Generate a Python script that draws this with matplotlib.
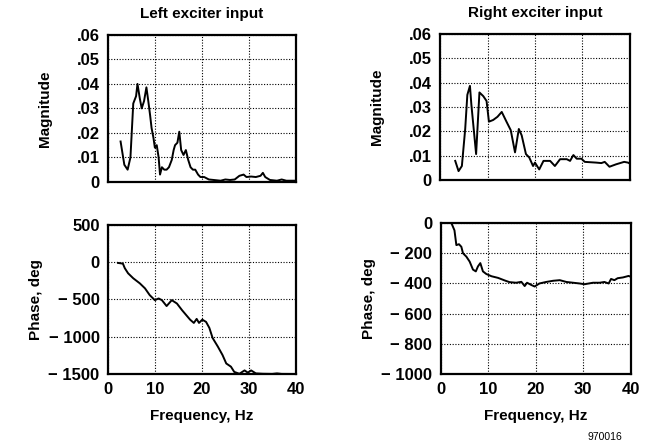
import numpy as np
import matplotlib
matplotlib.use("Agg")
import matplotlib.pyplot as plt

plt.rcParams['font.family'] = ['Liberation Sans', 'DejaVu Sans']
plt.rcParams['font.weight'] = 'bold'

# left exciter, magnitude
left_mag_f = [2.7, 3.5, 4.2, 4.8, 5.4, 6.0, 6.3, 6.8, 7.2, 7.7, 8.2, 8.6, 9.0, 9.3, 9.7,
              10.0, 10.4, 10.8, 11.1, 11.5, 12.0, 12.5, 13.0, 13.6, 14.0, 14.3, 14.8,
              15.2, 15.6, 16.1, 16.6, 17.1, 17.6, 18.1, 18.6, 19.2, 19.7, 20.5, 21.5,
              22.5, 24, 25, 26, 27, 28, 28.9, 29.5, 30.5, 31.5, 32.5, 33, 33.5, 34.5,
              36, 37, 38, 40]
left_mag = [.0165, .007, .005, .010, .032, .035, .040, .034, .030, .033, .0386, .033, .027,
            .022, .018, .014, .015, .010, .003, .006, .005, .005, .006, .009, .013, .015,
            .016, .0205, .013, .011, .013, .009, .006, .005, .005, .003, .002, .002, .001,
            .0008, .0005, .001, .0008, .001, .0025, .003, .002, .0022, .002, .0025, .0037,
            .002, .0008, .0005, .001, .0005, .0005]

# right exciter, magnitude
right_mag_f = [3.2, 3.9, 4.6, 5.3, 5.75, 6.3, 6.6, 7.6, 8.3, 9.1, 9.8, 10.3, 11.2, 12.1,
               13.0, 14.0, 14.9, 15.8, 16.6, 17.2, 18.1, 18.8, 19.6, 20.0, 20.9, 21.8,
               23.2, 24.2, 25.3, 26.7, 27.4, 28.1, 28.8, 29.8, 30.5, 32.9, 34.0, 34.7,
               35.7, 37.1, 38.8, 39.6, 40]
right_mag = [.0079, .0037, .0058, .021, .035, .0387, .031, .0107, .036, .0345, .0325, .024,
             .0247, .026, .028, .024, .0205, .0114, .021, .0184, .0107, .0093, .0058,
             .0072, .0044, .0079, .0079, .0058, .0086, .0086, .0079, .0103, .0088, .0088,
             .0075, .0072, .007, .0075, .0055, .0065, .0075, .0072, .0068]

# left exciter, phase
left_ph_f = [2.15, 3.2, 3.6, 4.3, 5.4, 6.8, 7.9, 8.9, 10.0, 10.8, 11.5, 12.5, 13.6, 14.7,
             15.8, 17.5, 18.3, 18.9, 19.4, 20.1, 20.9, 21.6, 22.3, 23.4, 24.4, 25.2,
             26.2, 26.9, 28.0, 29.1, 29.8, 30.5, 31.5, 33, 35, 36, 37, 40]
left_ph = [-10, -20, -81, -149, -216, -284, -351, -441, -509, -486, -509, -588, -509, -554,
           -644, -770, -814, -760, -814, -770, -800, -880, -1016, -1130, -1243, -1357,
           -1400, -1470, -1495, -1450, -1480, -1450, -1490, -1495, -1497, -1490, -1497, -1498]

# right exciter, phase
right_ph_f = [2.25, 2.9, 3.3, 3.85, 4.35, 4.7, 5.4, 6.1, 6.8, 7.4, 7.85, 8.35, 8.9, 9.6,
              10.7, 12.1, 13.5, 14.5, 15.9, 17.0, 17.7, 18.2, 19.1, 19.8, 20.8, 22.2,
              23.7, 25.1, 26.5, 27.9, 29.3, 30.3, 32.1, 33.5, 34.5, 35.4, 35.9, 36.6,
              37.3, 38.4, 39.6, 40]
right_ph = [0, -48, -146, -140, -157, -200, -222, -255, -308, -320, -287, -265, -320, -337,
            -352, -363, -380, -391, -395, -389, -417, -395, -410, -420, -400, -390, -382,
            -378, -390, -395, -400, -405, -395, -395, -390, -400, -370, -378, -365, -360,
            -350, -355]

mag_ticks = [0, .01, .02, .03, .04, .05, .06]
mag_labels = ['0', '.01', '.02', '.03', '.04', '.05', '.06']
left_ph_ticks = [500, 0, -500, -1000, -1500]
left_ph_labels = ['500', '0', '\u2212 500', '\u2212 1000', '\u2212 1500']
right_ph_ticks = [0, -200, -400, -600, -800, -1000]
right_ph_labels = ['0', '\u2212 200', '\u2212 400', '\u2212 600', '\u2212 800', '\u2212 1000']
freq_ticks = [0, 10, 20, 30, 40]

fig = plt.figure(figsize=(6.5, 4.47), dpi=100)

ax_tl = fig.add_axes([0.166, 0.593, 0.289, 0.329])
ax_tr = fig.add_axes([0.677, 0.597, 0.292, 0.327])
ax_bl = fig.add_axes([0.166, 0.163, 0.289, 0.334])
ax_br = fig.add_axes([0.678, 0.163, 0.292, 0.338])


def style(ax, yt, yl, ylim):
    ax.set_xlim(0, 40)
    ax.set_ylim(*ylim)
    ax.set_xticks(freq_ticks)
    ax.set_yticks(yt)
    ax.set_yticklabels(yl)
    ax.grid(True, color='black', linestyle=(0, (1, 1.5)), linewidth=0.8)
    ax.tick_params(length=0, labelsize=12, pad=6)
    for s in ax.spines.values():
        s.set_linewidth(1.6)


ax_tl.plot(left_mag_f, left_mag, color='black', lw=1.4)
style(ax_tl, mag_ticks, mag_labels, (0, .06))
ax_tl.set_xticklabels([])
ax_tl.set_title('Left exciter input', fontsize=11, fontweight='bold', pad=12)
ax_tl.set_ylabel('Magnitude', fontsize=11, fontweight='bold', labelpad=18)

ax_tr.plot(right_mag_f, right_mag, color='black', lw=1.4)
style(ax_tr, mag_ticks, mag_labels, (0, .06))
ax_tr.set_xticklabels([])
ax_tr.set_title('Right exciter input', fontsize=11, fontweight='bold', pad=12)
ax_tr.set_ylabel('Magnitude', fontsize=11, fontweight='bold', labelpad=18)

ax_bl.plot(left_ph_f, left_ph, color='black', lw=1.4)
style(ax_bl, left_ph_ticks, left_ph_labels, (-1500, 500))
ax_bl.set_xlabel('Frequency, Hz', fontsize=11, fontweight='bold', labelpad=8)
ax_bl.set_ylabel('Phase, deg', fontsize=11, fontweight='bold', labelpad=4)

ax_br.plot(right_ph_f, right_ph, color='black', lw=1.4)
style(ax_br, right_ph_ticks, right_ph_labels, (-1000, 0))
ax_br.set_xlabel('Frequency, Hz', fontsize=11, fontweight='bold', labelpad=8)
ax_br.set_ylabel('Phase, deg', fontsize=11, fontweight='bold', labelpad=4)

fig.text(0.93, 0.022, '970016', fontsize=7.5, fontweight='normal', ha='center', va='center')

fig.savefig('out.png', dpi=100)
